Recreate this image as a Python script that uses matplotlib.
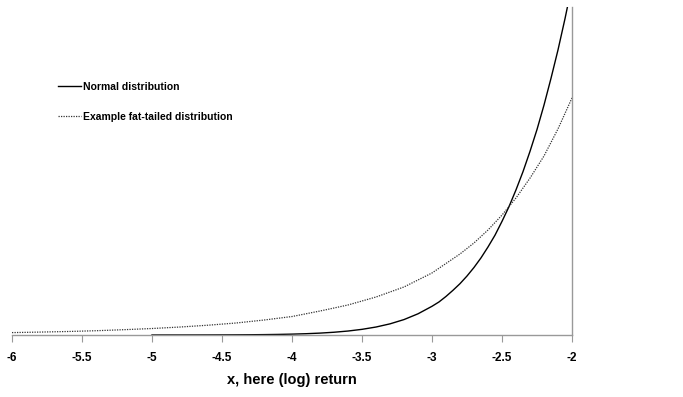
import numpy as np
import matplotlib.pyplot as plt

# values (y in density units, no y labels shown)
normal_x = [-5.0, -4.9, -4.8, -4.7, -4.6, -4.5, -4.4, -4.3, -4.2, -4.1,
            -4.0, -3.9, -3.8, -3.7, -3.6, -3.5, -3.4, -3.3, -3.2, -3.1,
            -3.0, -2.95, -2.9, -2.85, -2.8, -2.75, -2.7, -2.65, -2.6, -2.55,
            -2.5, -2.45, -2.4, -2.35, -2.3, -2.25, -2.2, -2.15, -2.1, -2.05, -2.0]
normal_y = [0.0000015, 0.0000024, 0.0000040, 0.0000063, 0.0000100, 0.000016,
            0.000025, 0.000039, 0.000059, 0.000089, 0.000134, 0.000199,
            0.000292, 0.000425, 0.000612, 0.000873, 0.00123, 0.00172,
            0.00238, 0.00327, 0.00443, 0.0051, 0.00595, 0.0069, 0.00792,
            0.0091, 0.01042, 0.0119, 0.01358, 0.0154, 0.01753, 0.0198,
            0.02239, 0.0252, 0.02833, 0.0317, 0.03547, 0.0396, 0.04398,
            0.0488, 0.05399]

fat_x = [-6.0, -5.8, -5.6, -5.4, -5.2, -5.0, -4.8, -4.6, -4.4, -4.2, -4.0,
         -3.8, -3.6, -3.4, -3.2, -3.0, -2.8, -2.7, -2.6, -2.5, -2.4, -2.3,
         -2.2, -2.1, -2.0]
fat_y = [0.00037, 0.00045, 0.00054, 0.00066, 0.00082, 0.0010, 0.00123,
         0.00151, 0.00185, 0.00231, 0.00285, 0.0037, 0.00463, 0.00586,
         0.00741, 0.00957, 0.0125, 0.0142, 0.0162, 0.0185, 0.02114, 0.0242,
         0.02762, 0.0318, 0.03657]

x_ticks = [-6, -5.5, -5, -4.5, -4, -3.5, -3, -2.5, -2]
x_tick_labels = ['-6', '-5.5', '-5', '-4.5', '-4', '-3.5', '-3', '-2.5', '-2']

plt.rcParams['font.family'] = ['Liberation Sans', 'DejaVu Sans']
plt.rcParams['font.weight'] = 'bold'

fig = plt.figure(figsize=(6.83, 3.97), dpi=100)
ax = fig.add_axes([12 / 683, 62 / 397, 560 / 683, 328 / 397])

ax.plot(normal_x, normal_y, color='black', lw=1.0, label='Normal distribution')
ax.plot(fat_x, fat_y, color='#333333', lw=0.9, linestyle=(0, (1, 1)),
        label='Example fat-tailed distribution')

ax.set_xlim(-6, -2)
ax.set_ylim(0, 0.0506)

for side in ['left', 'top']:
    ax.spines[side].set_visible(False)
for side in ['bottom', 'right']:
    ax.spines[side].set_color('#999999')
    ax.spines[side].set_linewidth(1.0)

ax.set_xticks(x_ticks)
ax.set_xticklabels(x_tick_labels, fontsize=8.5, fontweight='bold')
ax.tick_params(axis='x', direction='out', length=5, color='#999999', pad=7)
ax.set_yticks([])

ax.set_xlabel('x, here (log) return', fontsize=10.5, fontweight='bold', labelpad=7)

ax.legend(loc='upper left', bbox_to_anchor=(0.082, 0.772), frameon=False,
          borderaxespad=0, borderpad=0, handlelength=2.2, handletextpad=0.25,
          labelspacing=1.9, prop={'size': 7.5, 'weight': 'bold'})

fig.savefig('out.png', dpi=100)
